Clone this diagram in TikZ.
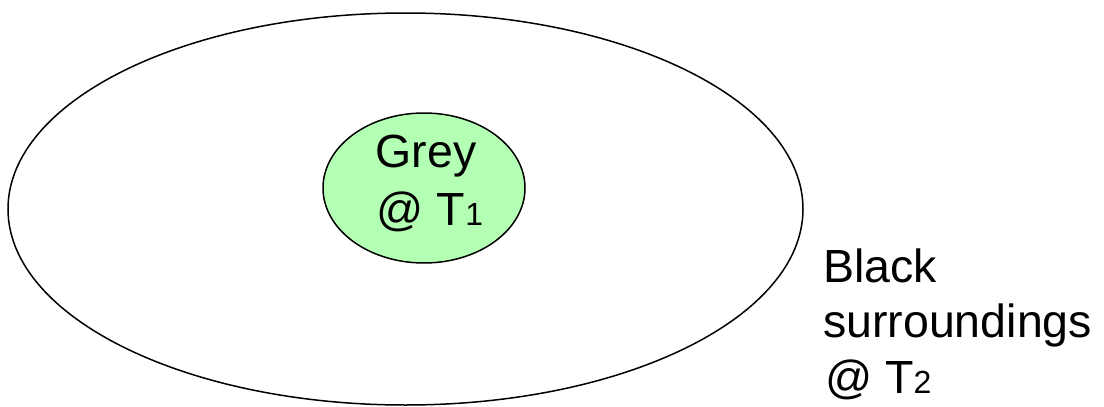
\documentclass[tikz,border=0pt]{standalone}
\usepackage{fontspec}
\setmainfont{Liberation Sans}
\usetikzlibrary{shapes.geometric}
\definecolor{greyfill}{HTML}{B3FFB3}
\newcommand{\subnum}[1]{{\fontsize{32}{32}\selectfont #1}}
\begin{document}
\begin{tikzpicture}[x=1pt,y=-1pt,
  label text/.style={font=\fontsize{46.5}{55}\selectfont, inner sep=0pt, anchor=base west}]
  \useasboundingbox (0,0) rectangle (1104,407);
  % surroundings and the enclosed body
  \draw[line width=1.5pt] (405.5,209) ellipse [x radius=397.5, y radius=196];
  \draw[line width=1.5pt, fill=greyfill] (424,188) ellipse [x radius=101, y radius=75];
  \node[label text, anchor=base] (grey) at (426,167) {Grey};
  \node[label text, anchor=base] (t1) at (430,225) {@ T\subnum{1}};
  % label of the surroundings
  \node[label text] (black) at (823,282) {Black};
  \node[label text] (surr) at (823,337) {surroundings};
  \node[label text] (t2) at (825,393) {@ T\subnum{2}};
\end{tikzpicture}
\end{document}
